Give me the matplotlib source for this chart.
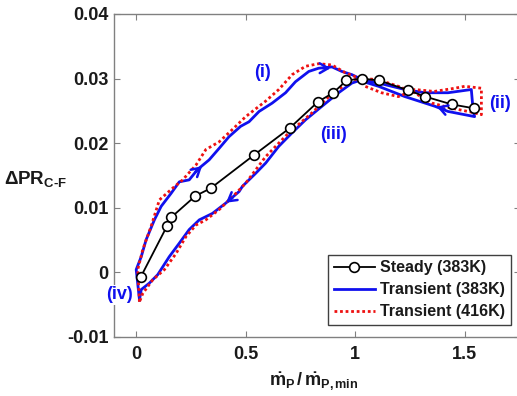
import matplotlib
matplotlib.use("Agg")
import matplotlib.pyplot as plt
import numpy as np

plt.rcParams['font.family'] = ['Liberation Sans', 'DejaVu Sans']
plt.rcParams['font.weight'] = 'bold'
plt.rcParams['mathtext.fontset'] = 'custom'
plt.rcParams['mathtext.rm'] = 'Liberation Sans:bold'
plt.rcParams['mathtext.bf'] = 'Liberation Sans:bold'
plt.rcParams['mathtext.it'] = 'Liberation Sans:bold'
plt.rcParams['mathtext.default'] = 'bf'

# ---- data ----
steady_x = [0.02, 0.14, 0.16, 0.27, 0.34, 0.54, 0.70, 0.83, 0.90, 0.96, 1.03, 1.11, 1.24, 1.32, 1.44, 1.54]
steady_y = [-0.0008, 0.0071, 0.0085, 0.0118, 0.0130, 0.0182, 0.0223, 0.0264, 0.0278, 0.0297, 0.0300,
            0.0297, 0.0282, 0.0272, 0.0260, 0.0254]

blue_x = [0.015, 0.00, 0.023, 0.045, 0.083, 0.114, 0.159, 0.197, 0.242, 0.280, 0.333, 0.379, 0.424,
          0.477, 0.515, 0.561, 0.621, 0.682, 0.727, 0.788, 0.833, 0.894, 0.939, 0.985, 1.015, 1.106,
          1.227, 1.318, 1.424, 1.530, 1.538, 1.545, 1.424, 1.364, 1.227, 1.106, 1.020, 0.985, 0.924,
          0.848, 0.773, 0.712, 0.651, 0.591, 0.545, 0.485, 0.470, 0.409, 0.348, 0.288, 0.242, 0.197,
          0.151, 0.098, 0.060, 0.023, 0.015]
blue_y = [-0.0043, 0.0004, 0.0024, 0.0050, 0.0081, 0.0102, 0.0122, 0.0140, 0.0143, 0.0159, 0.0174,
          0.0192, 0.0210, 0.0226, 0.0233, 0.0249, 0.0262, 0.0278, 0.0295, 0.0311, 0.0316, 0.0318,
          0.0311, 0.0306, 0.0301, 0.0293, 0.0283, 0.0278, 0.0278, 0.0283, 0.0252, 0.0241, 0.0249,
          0.0257, 0.0272, 0.0288, 0.0297, 0.0293, 0.0278, 0.0257, 0.0236, 0.0216, 0.0195, 0.0169,
          0.0153, 0.0133, 0.0125, 0.0107, 0.0091, 0.0081, 0.0066, 0.0045, 0.0024, -0.0004, -0.0017,
          -0.0027, -0.0043]

red_x = [0.015, 0.007, 0.030, 0.068, 0.106, 0.166, 0.212, 0.273, 0.318, 0.379, 0.439, 0.500, 0.591,
         0.651, 0.712, 0.773, 0.833, 0.894, 0.955, 1.015, 1.045, 1.120, 1.197, 1.273, 1.360, 1.455,
         1.500, 1.576, 1.576, 1.530, 1.440, 1.350, 1.270, 1.197, 1.106, 1.015, 0.960, 0.880, 0.803,
         0.697, 0.591, 0.500, 0.455, 0.379, 0.318, 0.273, 0.227, 0.182, 0.129, 0.075, 0.030, 0.015]
red_y = [-0.0046, 0.0004, 0.0035, 0.0071, 0.0112, 0.0130, 0.0143, 0.0166, 0.0190, 0.0202, 0.0221,
         0.0241, 0.0265, 0.0283, 0.0306, 0.0319, 0.0323, 0.0321, 0.0309, 0.0301, 0.0288, 0.0278,
         0.0272, 0.0283, 0.0280, 0.0285, 0.0288, 0.0285, 0.0244, 0.0248, 0.0254, 0.0262, 0.0278,
         0.0288, 0.0298, 0.0301, 0.0292, 0.0272, 0.0247, 0.0216, 0.0179, 0.0138, 0.0122, 0.0097,
         0.0081, 0.0073, 0.0055, 0.0029, 0.0004, -0.0012, -0.0033, -0.0046]

# arrow (tail, head) pairs on the blue loop
arrows = [((0.26, 0.0152), (0.31, 0.0167)),
          ((0.84, 0.0316), (0.90, 0.0316)),
          ((1.42, 0.0251), (1.36, 0.0258)),
          ((0.45, 0.0118), (0.40, 0.0105))]

labels = [("(i)", 0.575, 0.0309), ("(ii)", 1.66, 0.0262), ("(iii)", 0.90, 0.0213), ("(iv)", -0.076, -0.0035)]

xticks = [0, 0.5, 1, 1.5]
xticklabels = ['0', '0.5', '1', '1.5']
yticks = [-0.01, 0, 0.01, 0.02, 0.03, 0.04]
yticklabels = ['-0.01', '0', '0.01', '0.02', '0.03', '0.04']

# ---- figure ----
fig = plt.figure(figsize=(5.17, 3.96), dpi=100)
L, B = 114.3 / 517, 59.3 / 396
R, T = 519.5 / 517, 382 / 396
ax = fig.add_axes([L, B, R - L, T - B])

ax.plot(steady_x, steady_y, '-o', color='black', lw=1.3, ms=7, mfc='white', mec='black', mew=1.2,
        label='Steady (383K)', zorder=4)
ax.plot(blue_x, blue_y, '-', color='#1010ee', lw=2.0, label='Transient (383K)', zorder=3)
ax.plot(red_x, red_y, linestyle=(0, (1, 1)), color='#ee1111', lw=2.0, label='Transient (416K)', zorder=3)

for (t, h) in arrows:
    ax.annotate('', xy=h, xytext=t,
                arrowprops=dict(arrowstyle='->,head_length=0.6,head_width=0.35', color='#1010ee', lw=1.8),
                zorder=5)

for txt, x, y in labels:
    ax.text(x, y, txt, color='#1010ee', fontsize=13, fontweight='bold', ha='center', va='center',
            clip_on=False, zorder=6,
            bbox=dict(facecolor='white', edgecolor='none', pad=1.0) if txt == '(iv)' else None)

ax.set_xlim(-0.1, 1.75)
ax.set_ylim(-0.01, 0.04)
ax.set_xticks(xticks)
ax.set_xticklabels(xticklabels)
ax.set_yticks(yticks)
ax.set_yticklabels(yticklabels)
for s in ax.spines.values():
    s.set_color('#808080')
    s.set_linewidth(1.0)
ax.tick_params(direction='in', top=True, right=True, length=4, color='#808080',
               labelsize=13, labelcolor='#1a1a1a')
ax.tick_params(axis='x', pad=7)
ax.tick_params(axis='y', pad=4)
for lab in ax.get_xticklabels() + ax.get_yticklabels():
    lab.set_fontweight('bold')

leg = ax.legend(loc='lower right', bbox_to_anchor=(0.978, 0.036), borderaxespad=0,
                fancybox=False, framealpha=1, edgecolor='#404040', prop=dict(weight='bold', size=11.5),
                handlelength=2.6, handletextpad=0.3, labelspacing=0.45, borderpad=0.35)
leg.get_frame().set_linewidth(1.0)
for t in leg.get_texts():
    t.set_color('#1a1a1a')

fig.text(36 / 517, 1 - 179 / 396, r'$\Delta$PR$_{\mathregular{C\text{-}F}}$', fontsize=13.5, fontweight='bold',
         ha='center', va='center', color='#1a1a1a')
fig.text(314 / 517, 1 - 382 / 396, r'$\dot{m}_{P}\,/\,\dot{m}_{P,min}$', fontsize=13,
         ha='center', va='center', color='#1a1a1a')

fig.savefig('out.png', dpi=100)
